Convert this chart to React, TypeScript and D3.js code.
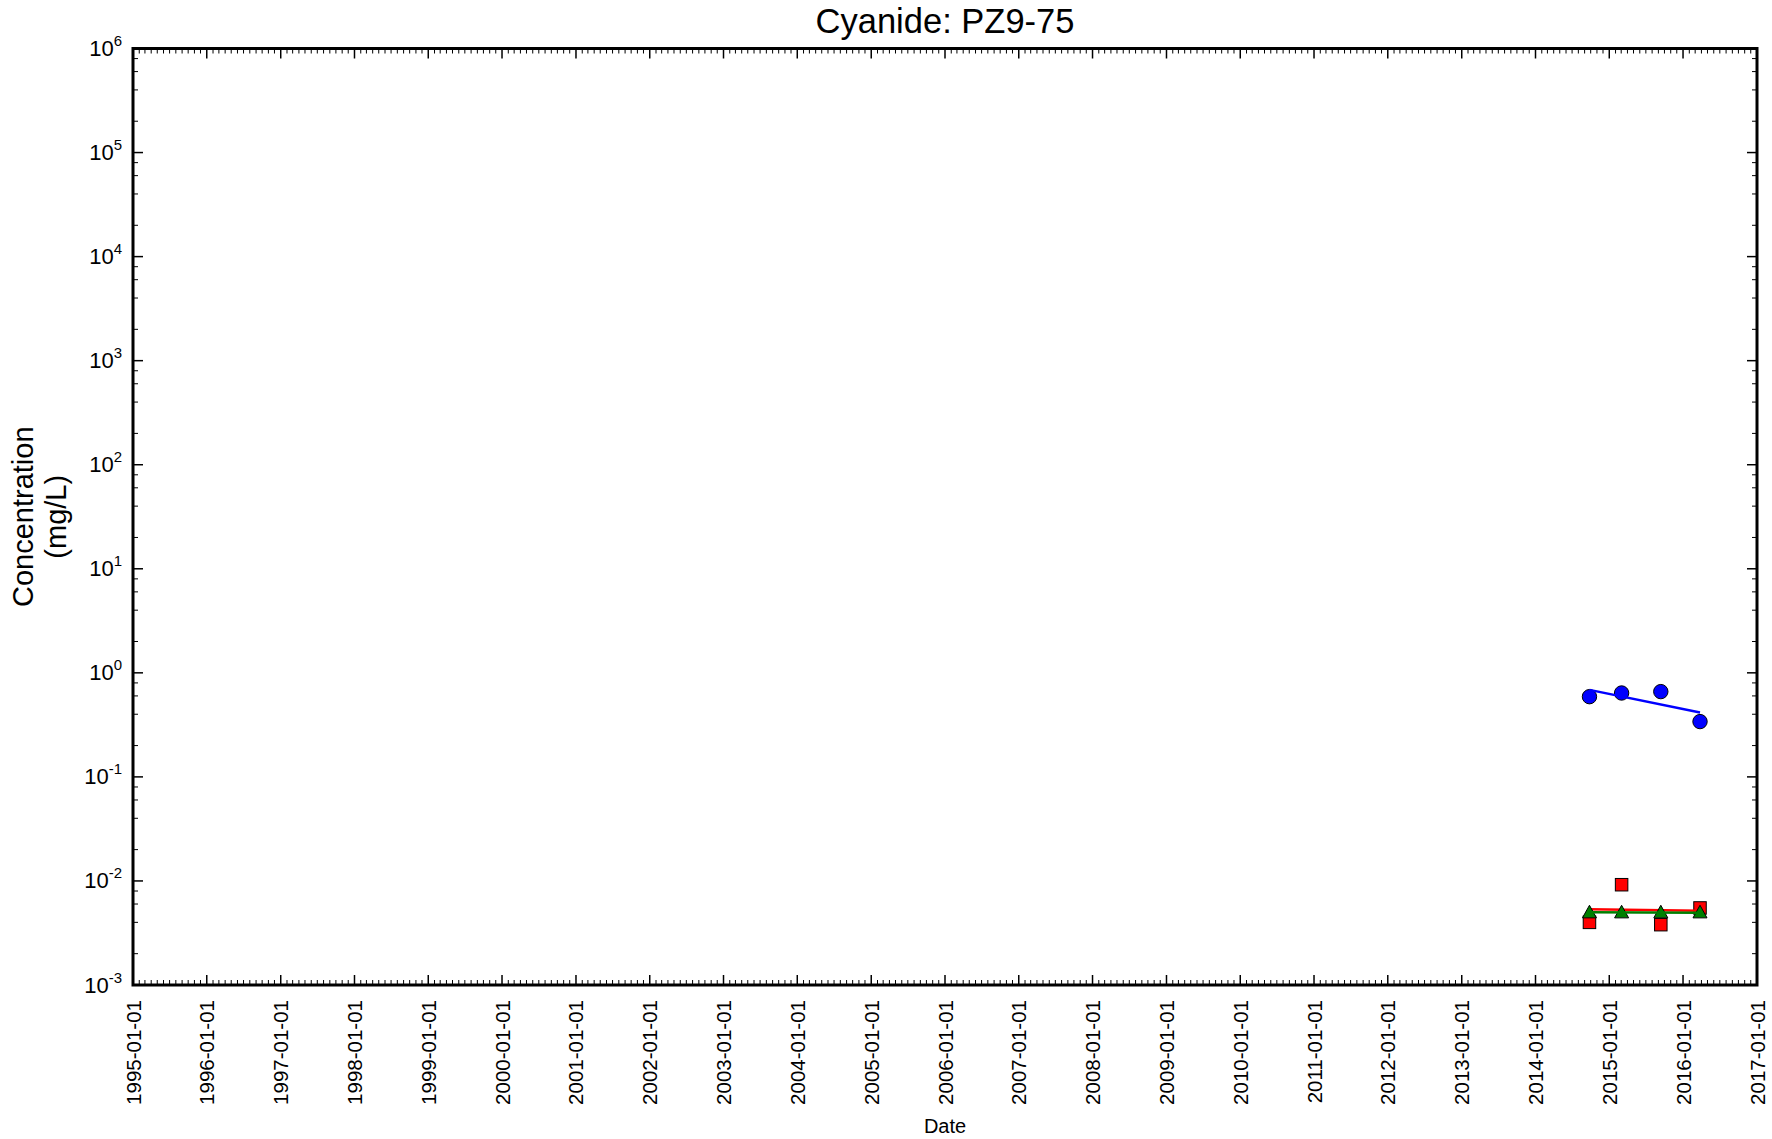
import React from "react";
import * as d3 from "d3";

const W = 1772;
const H = 1139;
const title = "Cyanide: PZ9-75";
const yLabelLines = ["Concentration", "(mg/L)"];
const xLabel = "Date";

const xDomain = ["1995-01-01", "2017-01-01"];
const yDomain = [1e-3, 1e6];
const yExponents = [-3, -2, -1, 0, 1, 2, 3, 4, 5, 6];
const yMinorSubs = [2, 4, 6, 8];

const sampleDates = ["2014-09-25", "2015-03-03", "2015-09-13", "2016-03-25"];
const blueValues = [0.59, 0.64, 0.66, 0.34];
const redValues = [0.004, 0.0092, 0.0038, 0.0055];
const greenValues = [0.005, 0.005, 0.005, 0.005];

const trendDates = ["2014-09-25", "2016-03-25"];
const blueTrend = [0.686, 0.415];
const redTrend = [0.00534, 0.00518];
const greenTrend = [0.005, 0.00496];

const FONT = "Arial, 'Liberation Sans', Helvetica, sans-serif";

export default function App() {
  const m = { left: 133, right: 1757, top: 48.5, bottom: 985 };
  const parse = d3.utcParse("%Y-%m-%d");
  const x = d3
    .scaleUtc()
    .domain(xDomain.map((d) => parse(d) as Date))
    .range([m.left, m.right]);
  const y = d3.scaleLog().domain(yDomain).range([m.bottom, m.top]);

  const years = d3.utcYear.range(x.domain()[0], d3.utcDay.offset(x.domain()[1], 1));
  const months = d3.utcMonth
    .range(x.domain()[0], x.domain()[1])
    .filter((d) => d.getUTCMonth() !== 0);
  const fmt = d3.utcFormat("%Y-%m-%d");

  const minorY: number[] = [];
  yExponents.slice(0, -1).forEach((e) => {
    yMinorSubs.forEach((s) => minorY.push(s * Math.pow(10, e)));
  });

  const line = d3
    .line<[string, number]>()
    .x((d) => x(parse(d[0]) as Date))
    .y((d) => y(d[1]));

  const pts = (vals: number[]) => sampleDates.map((d, i) => ({ cx: x(parse(d) as Date), cy: y(vals[i]) }));
  const trend = (vals: number[]) => line(trendDates.map((d, i) => [d, vals[i]] as [string, number])) || "";

  const sq = 12.5;
  const tri = (cx: number, cy: number) => {
    const s = 7;
    return `M${cx},${cy - s}L${cx + s},${cy + s * 0.8}L${cx - s},${cy + s * 0.8}Z`;
  };

  return (
    <svg
      width={W}
      height={H}
      style={{ position: "absolute", left: 0, top: 0, background: "#fff" }}
      fontFamily={FONT}
    >
      <rect x={0} y={0} width={W} height={H} fill="#fff" />
      {/* title */}
      <text x={(m.left + m.right) / 2} y={33} textAnchor="middle" fontSize={34.5} fill="#000">
        {title}
      </text>

      {/* y label */}
      <g transform={`translate(0, ${(m.top + m.bottom) / 2}) rotate(-90)`}>
        <text x={0} y={33} textAnchor="middle" fontSize={29} fill="#000">
          {yLabelLines[0]}
        </text>
        <text x={0} y={66} textAnchor="middle" fontSize={29} fill="#000">
          {yLabelLines[1]}
        </text>
      </g>

      {/* x label */}
      <text x={(m.left + m.right) / 2} y={1133} textAnchor="middle" fontSize={20} fill="#000">
        {xLabel}
      </text>

      {/* x ticks */}
      {months.map((d, i) => {
        const px = x(d);
        return (
          <g key={"mx" + i} stroke="#000" strokeWidth={1}>
            <line x1={px} x2={px} y1={m.bottom} y2={m.bottom - 5} />
            <line x1={px} x2={px} y1={m.top} y2={m.top + 5} />
          </g>
        );
      })}
      {years.map((d, i) => {
        const px = x(d);
        return (
          <g key={"yx" + i}>
            <line x1={px} x2={px} y1={m.bottom} y2={m.bottom - 10} stroke="#000" strokeWidth={1.5} />
            <line x1={px} x2={px} y1={m.top} y2={m.top + 10} stroke="#000" strokeWidth={1.5} />
            <text
              transform={`translate(${px + 7.5}, ${m.bottom + 15}) rotate(-90)`}
              textAnchor="end"
              fontSize={20.5}
              fill="#000"
            >
              {fmt(d)}
            </text>
          </g>
        );
      })}

      {/* y ticks */}
      {minorY.map((v, i) => {
        const py = y(v);
        return (
          <g key={"my" + i} stroke="#000" strokeWidth={1}>
            <line x1={m.left} x2={m.left + 5} y1={py} y2={py} />
            <line x1={m.right} x2={m.right - 5} y1={py} y2={py} />
          </g>
        );
      })}
      {yExponents.map((e) => {
        const py = y(Math.pow(10, e));
        return (
          <g key={"ey" + e}>
            <line x1={m.left} x2={m.left + 10} y1={py} y2={py} stroke="#000" strokeWidth={1.5} />
            <line x1={m.right} x2={m.right - 10} y1={py} y2={py} stroke="#000" strokeWidth={1.5} />
            <text x={m.left - 11} y={py + 7.5} textAnchor="end" fontSize={22} fill="#000">
              10
              <tspan dy={-10} fontSize={15}>
                {e}
              </tspan>
            </text>
          </g>
        );
      })}

      {/* data */}
      {pts(redValues).map((p, i) => (
        <rect
          key={"r" + i}
          x={p.cx - sq / 2}
          y={p.cy - sq / 2}
          width={sq}
          height={sq}
          fill="#ff0000"
          stroke="#000"
          strokeWidth={1}
        />
      ))}
      <path d={trend(redTrend)} fill="none" stroke="#ff0000" strokeWidth={2.5} />
      {pts(greenValues).map((p, i) => (
        <path key={"g" + i} d={tri(p.cx, p.cy)} fill="#007f00" stroke="#000" strokeWidth={1} />
      ))}
      <path d={trend(greenTrend)} fill="none" stroke="#007f00" strokeWidth={2.5} />
      {pts(blueValues).map((p, i) => (
        <circle key={"b" + i} cx={p.cx} cy={p.cy} r={7.2} fill="#0000ff" stroke="#000" strokeWidth={1} />
      ))}
      <path d={trend(blueTrend)} fill="none" stroke="#0000ff" strokeWidth={2.5} />

      {/* frame */}
      <rect
        x={m.left}
        y={m.top}
        width={m.right - m.left}
        height={m.bottom - m.top}
        fill="none"
        stroke="#000"
        strokeWidth={3}
      />
    </svg>
  );
}
